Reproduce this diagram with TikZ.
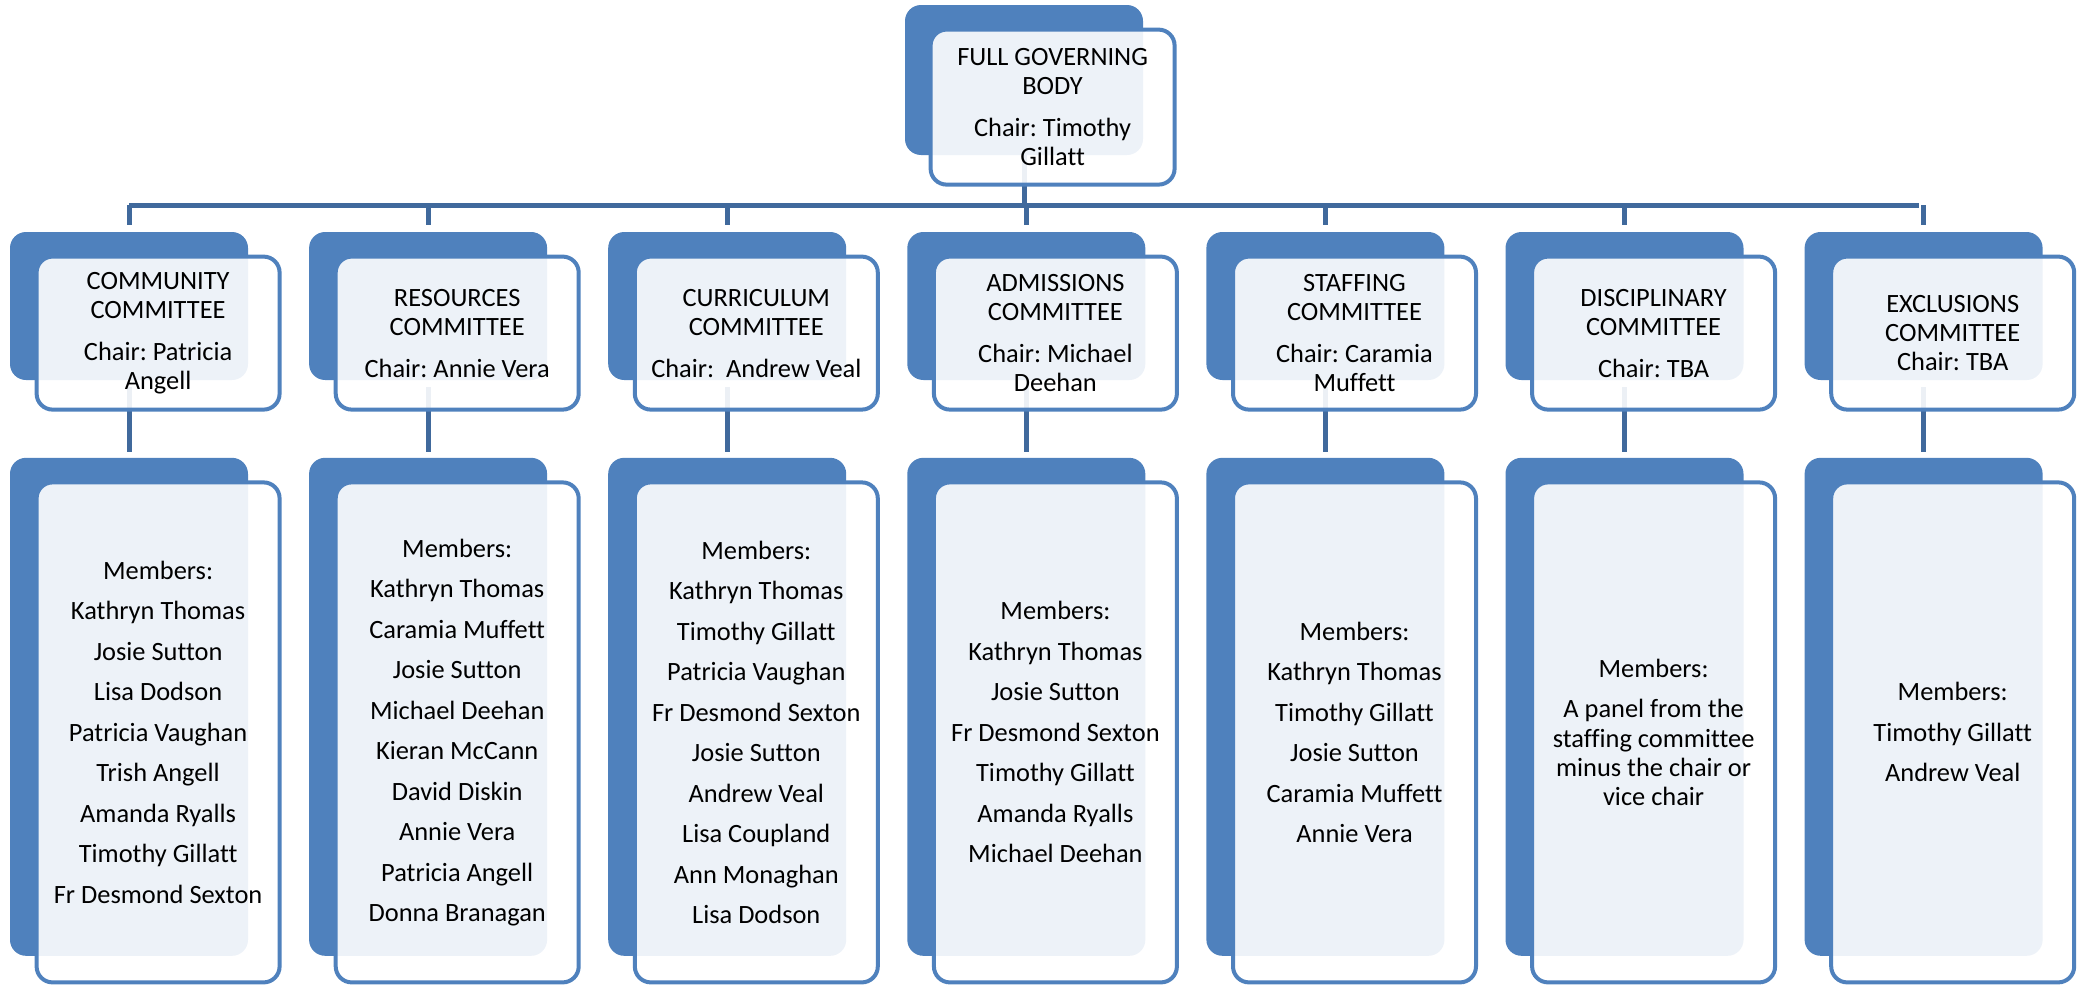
\documentclass[tikz,border=0pt]{standalone}
\usepackage{fontspec}
\setmainfont{Carlito}[Ligatures=NoCommon]
\frenchspacing
\usetikzlibrary{positioning,backgrounds}
\definecolor{boxblue}{RGB}{79,129,189}
\definecolor{linkblue}{RGB}{64,105,156}

\begin{document}
\begin{tikzpicture}[
      x=0.5pt, y=-0.5pt,
      backbox/.style={
         rectangle,
         rounded corners=8pt,
         fill=boxblue,
         inner sep=0pt,
         minimum width=119pt},
      frontbox/.style={
         rectangle,
         rounded corners=8pt,
         draw=boxblue,
         line width=2pt,
         fill=white,
         fill opacity=0.9,
         text opacity=1,
         align=center,
         inner sep=0pt,
         anchor=north west,
         minimum width=121.5pt},
      headback/.style={backbox, minimum height=74pt},
      memback/.style={backbox, minimum height=249pt},
      headbox/.style={frontbox, minimum height=76.5pt, font=\fontsize{13.2}{14.5}\selectfont},
      membox/.style={frontbox, minimum height=250pt, font=\fontsize{13.2}{20.25}\selectfont},
      link/.style={draw=linkblue, line width=2.5pt},
      node distance=38.5pt and 30.15pt
      ]
\useasboundingbox (0,0) rectangle (2078,985);

% governing body
\node[backbox,minimum height=75pt] (fgbB) at (1024,80) {};
\node[headbox,minimum width=122pt,minimum height=77.5pt] (fgb) at ([shift={(24,23)}]fgbB.north west)
   {FULL GOVERNING\\BODY\\[6.5pt]Chair: Timothy\\Gillatt};

% committees
\node[headback             ] (c1B) at (129,306) {};
\node[headback,right=of c1B] (c2B) {};
\node[headback,right=of c2B] (c3B) {};
\node[headback,right=of c3B] (c4B) {};
\node[headback,right=of c4B] (c5B) {};
\node[headback,right=of c5B] (c6B) {};
\node[headback,right=of c6B] (c7B) {};

\node[headbox] (c1) at ([shift={(25,23)}]c1B.north west) {COMMUNITY\\COMMITTEE\\[6.5pt]Chair: Patricia\\Angell};
\node[headbox] (c2) at ([shift={(25,23)}]c2B.north west) {RESOURCES\\COMMITTEE\\[6.5pt]Chair: Annie Vera};
\node[headbox] (c3) at ([shift={(25,23)}]c3B.north west) {CURRICULUM\\COMMITTEE\\[6.5pt]Chair:\ \ Andrew Veal};
\node[headbox] (c4) at ([shift={(25,23)}]c4B.north west) {ADMISSIONS\\COMMITTEE\\[6.5pt]Chair: Michael\\Deehan};
\node[headbox] (c5) at ([shift={(25,23)}]c5B.north west) {STAFFING\\COMMITTEE\\[6.5pt]Chair: Caramia\\Muffett};
\node[headbox] (c6) at ([shift={(25,23)}]c6B.north west) {DISCIPLINARY\\COMMITTEE\\[6.5pt]Chair: TBA};
\node[headbox] (c7) at ([shift={(25,23)}]c7B.north west) {EXCLUSIONS\\COMMITTEE\\Chair: TBA};

% members
\node[memback,below=of c1B] (m1B) {};
\node[memback,below=of c2B] (m2B) {};
\node[memback,below=of c3B] (m3B) {};
\node[memback,below=of c4B] (m4B) {};
\node[memback,below=of c5B] (m5B) {};
\node[memback,below=of c6B] (m6B) {};
\node[memback,below=of c7B] (m7B) {};

\node[membox] (m1) at ([shift={(25,23)}]m1B.north west) {Members:\\Kathryn Thomas\\Josie Sutton\\Lisa Dodson\\Patricia Vaughan\\Trish Angell\\Amanda Ryalls\\Timothy Gillatt\\Fr Desmond Sexton};
\node[membox] (m2) at ([shift={(25,23)}]m2B.north west) {Members:\\Kathryn Thomas\\Caramia Muffett\\Josie Sutton\\Michael Deehan\\Kieran McCann\\David Diskin\\Annie Vera\\Patricia Angell\\Donna Branagan};
\node[membox] (m3) at ([shift={(25,23)}]m3B.north west) {Members:\\Kathryn Thomas\\Timothy Gillatt\\Patricia Vaughan\\Fr Desmond Sexton\\Josie Sutton\\Andrew Veal\\Lisa Coupland\\Ann Monaghan\\Lisa Dodson};
\node[membox] (m4) at ([shift={(25,23)}]m4B.north west) {Members:\\Kathryn Thomas\\Josie Sutton\\Fr Desmond Sexton\\Timothy Gillatt\\Amanda Ryalls\\Michael Deehan};
\node[membox] (m5) at ([shift={(25,23)}]m5B.north west) {Members:\\Kathryn Thomas\\Timothy Gillatt\\Josie Sutton\\Caramia Muffett\\Annie Vera};
\node[membox] (m6) at ([shift={(25,23)}]m6B.north west) {Members:\\A panel from the\\[-5.6pt]staffing committee\\[-5.6pt]minus the chair or\\[-5.6pt]vice chair};
\node[membox] (m7) at ([shift={(25,23)}]m7B.north west) {Members:\\Timothy Gillatt\\Andrew Veal};

% connectors
\coordinate (busL) at (129,205);
\coordinate (busR) at (1919,205);
\begin{scope}[on background layer]
\draw[link] (busL) -- (busR);
\draw[link] (fgbB.center) -- (fgbB |- busL);
\foreach \i in {1,...,7}{
   \draw[link,shorten >=3.5pt] (c\i B |- busL) -- (c\i B.north);
   \draw[link,shorten <=3.5pt,shorten >=2.5pt] (c\i B.south) -- (m\i B.north);
}
\end{scope}

\end{tikzpicture}
\end{document}
